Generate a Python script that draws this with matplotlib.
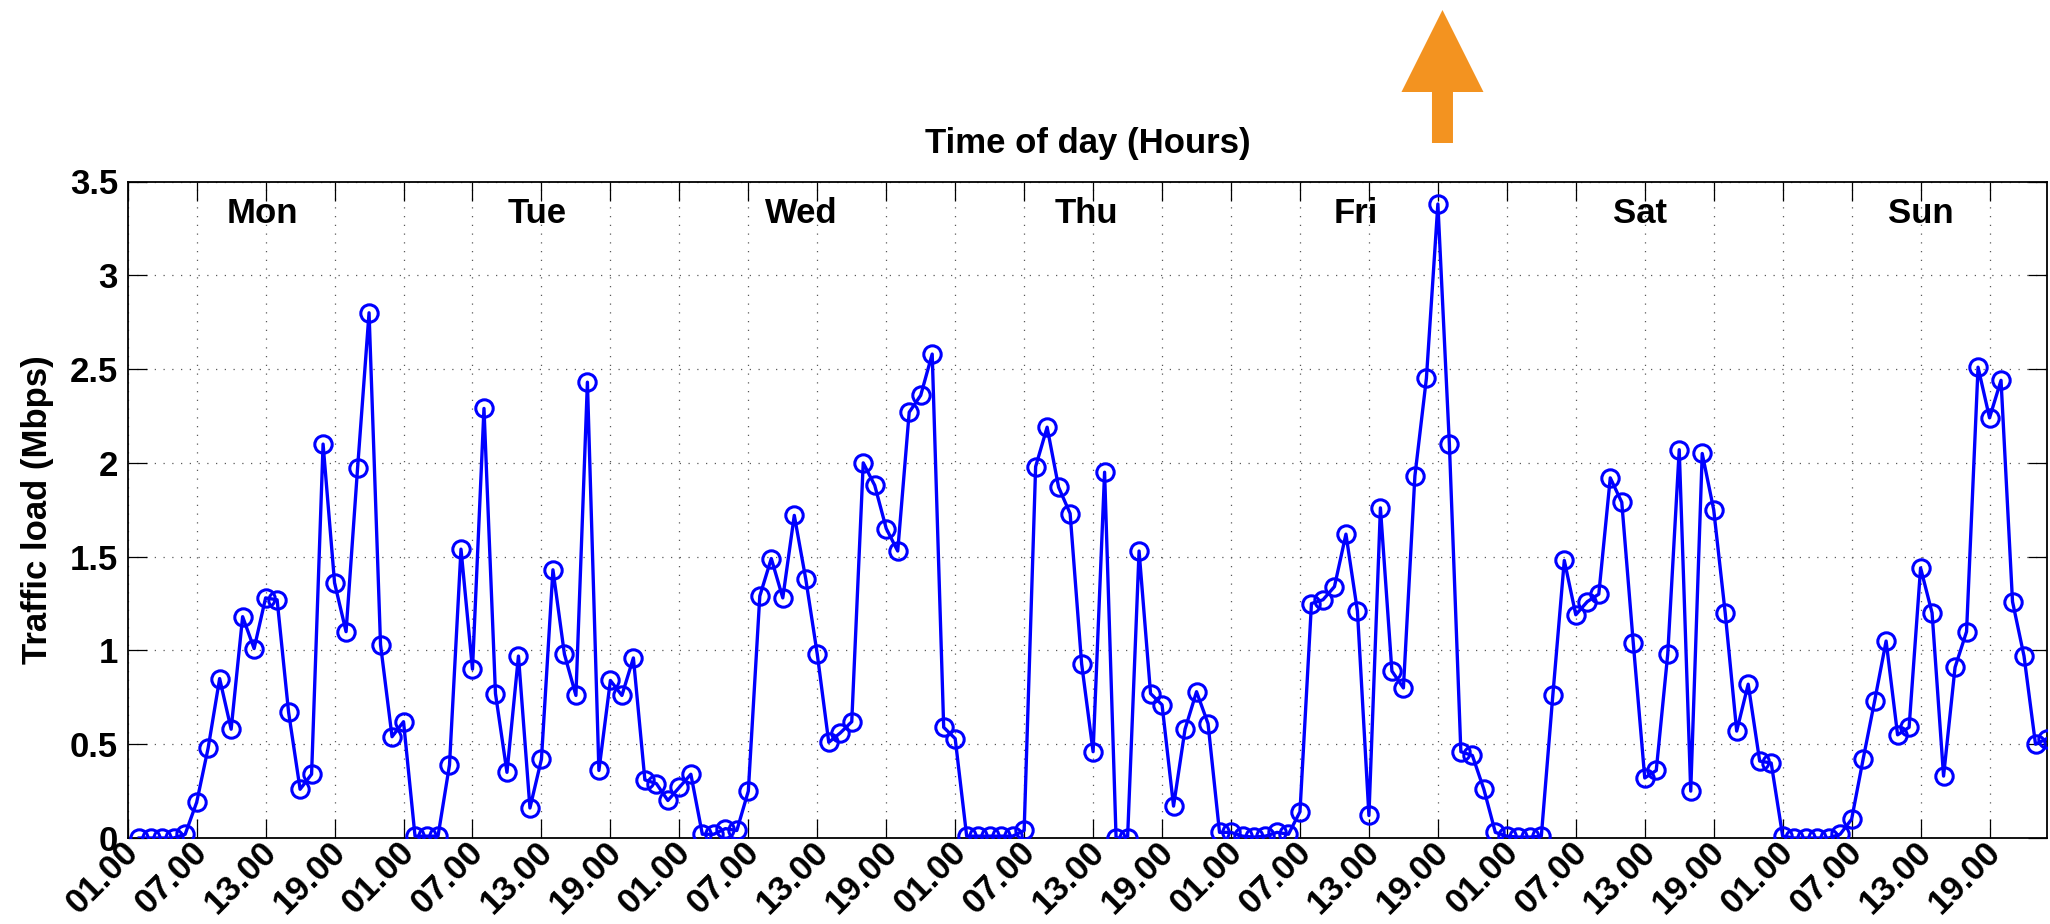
import numpy as np
import matplotlib
matplotlib.use("Agg")
import matplotlib.pyplot as plt
from matplotlib.patches import Polygon
from matplotlib.transforms import IdentityTransform, ScaledTranslation

plt.rcParams['font.family'] = ['Liberation Sans', 'DejaVu Sans']
plt.rcParams['font.weight'] = 'bold'

# ---------------- data (hourly traffic load, Mbps) ----------------
mon = [0.0, 0.0, 0.0, 0.0, 0.02, 0.19, 0.48, 0.85, 0.58, 1.18, 1.01, 1.28,
       1.27, 0.67, 0.26, 0.34, 2.10, 1.36, 1.10, 1.97, 2.80, 1.03, 0.54, 0.62]
tue = [0.01, 0.01, 0.01, 0.39, 1.54, 0.90, 2.29, 0.77, 0.35, 0.97, 0.16, 0.42,
       1.43, 0.98, 0.76, 2.43, 0.36, 0.84, 0.76, 0.96, 0.31, 0.29, 0.20, 0.27]
wed = [0.34, 0.02, 0.02, 0.05, 0.04, 0.25, 1.29, 1.49, 1.28, 1.72, 1.38, 0.98,
       0.51, 0.56, 0.62, 2.00, 1.88, 1.65, 1.53, 2.27, 2.36, 2.58, 0.59, 0.53]
thu = [0.01, 0.01, 0.01, 0.01, 0.01, 0.04, 1.98, 2.19, 1.87, 1.73, 0.93, 0.46,
       1.95, 0.0, 0.0, 1.53, 0.77, 0.71, 0.17, 0.58, 0.78, 0.61, 0.03, 0.03]
fri = [0.01, 0.005, 0.01, 0.03, 0.02, 0.14, 1.25, 1.27, 1.34, 1.62, 1.21, 0.12,
       1.76, 0.89, 0.80, 1.93, 2.45, 3.38, 2.10, 0.46, 0.44, 0.26, 0.03, 0.01]
sat = [0.005, 0.005, 0.01, 0.76, 1.48, 1.19, 1.26, 1.30, 1.92, 1.79, 1.04, 0.32,
       0.36, 0.98, 2.07, 0.25, 2.05, 1.75, 1.20, 0.57, 0.82, 0.41, 0.40, 0.01]
sun = [0.0, 0.0, 0.0, 0.0, 0.02, 0.10, 0.42, 0.73, 1.05, 0.55, 0.59, 1.44,
       1.20, 0.33, 0.91, 1.10, 2.51, 2.24, 2.44, 1.26, 0.97, 0.50, 0.53]

day_names = ['Mon', 'Tue', 'Wed', 'Thu', 'Fri', 'Sat', 'Sun']
day_label_x = [11.7, 35.6, 58.6, 83.4, 106.9, 131.6, 156.0]
hour_labels = ['01.00', '07.00', '13.00', '19.00'] * 7
y_ticks = [0, 0.5, 1, 1.5, 2, 2.5, 3, 3.5]
y_tick_labels = ['0', '0.5', '1', '1.5', '2', '2.5', '3', '3.5']
peak_hour = 114.4

load = np.array(mon + tue + wed + thu + fri + sat + sun)
hours = np.arange(1, len(load) + 1)

# ---------------- figure ----------------
W, H = 2050, 924
fig = plt.figure(figsize=(W / 100, H / 100), dpi=100)
ax_l, ax_r, ax_t, ax_b = 127.7, 2047.0, 181.5, 838.0
ax = fig.add_axes([ax_l / W, 1 - ax_b / H, (ax_r - ax_l) / W, (ax_b - ax_t) / H])

ax.plot(hours, load, '-o', color=(0, 0, 1), lw=2.4, ms=12.5,
        mfc='none', mec=(0, 0, 1), mew=2.2, zorder=3)

ax.set_xlim(0, 167)
ax.set_ylim(0, 3.5)
ax.set_xticks(np.arange(0, 167, 6))
ax.set_xticklabels(hour_labels)
ax.set_yticks(y_ticks)
ax.set_yticklabels(y_tick_labels)

ax.set_axisbelow(True)
ax.grid(True, linestyle=(0, (1, 6)), color='0.35', linewidth=0.9)

ax.tick_params(direction='in', length=13.7, width=0.9, top=True, right=True,
               labelsize=25, colors='black')
ax.tick_params(axis='y', pad=7)
ax.tick_params(axis='x', pad=6.5)
shift = ScaledTranslation(6 / 100, 0, fig.dpi_scale_trans)
for lbl in ax.get_xticklabels():
    lbl.set_rotation(45)
    lbl.set_ha('right')
    lbl.set_va('center')
    lbl.set_rotation_mode('anchor')
    lbl.set_fontweight('bold')
    lbl.set_transform(lbl.get_transform() + shift)
for lbl in ax.get_yticklabels():
    lbl.set_fontweight('bold')

for s in ax.spines.values():
    s.set_linewidth(1.3)
    s.set_color('black')

for name, xp in zip(day_names, day_label_x):
    ax.text(xp, 3.33, name, ha='center', va='center', fontsize=25,
            fontweight='bold')

ax.text(0.5, 1 + (ax_t - 143) / (ax_b - ax_t),
        'Time of day (Hours)', transform=ax.transAxes, ha='center',
        va='center', fontsize=25, fontweight='bold')

fig.text(37.5 / W, 1 - 510 / H, 'Traffic load (Mbps)', rotation=90,
         ha='center', va='center', fontsize=25, fontweight='bold')

# orange arrow pointing at the peak
cx = ax.transData.transform((peak_hour, 0))[0]
tip_y, base_y, tail_y = H - 10, H - 92, H - 143
hw, sw = 41, 10.5
verts = [(cx, tip_y), (cx + hw, base_y), (cx + sw, base_y), (cx + sw, tail_y),
         (cx - sw, tail_y), (cx - sw, base_y), (cx - hw, base_y)]
fig.add_artist(Polygon(verts, closed=True, transform=IdentityTransform(),
                       facecolor='#F39320', edgecolor='none'))

fig.savefig('out.png', dpi=100)
